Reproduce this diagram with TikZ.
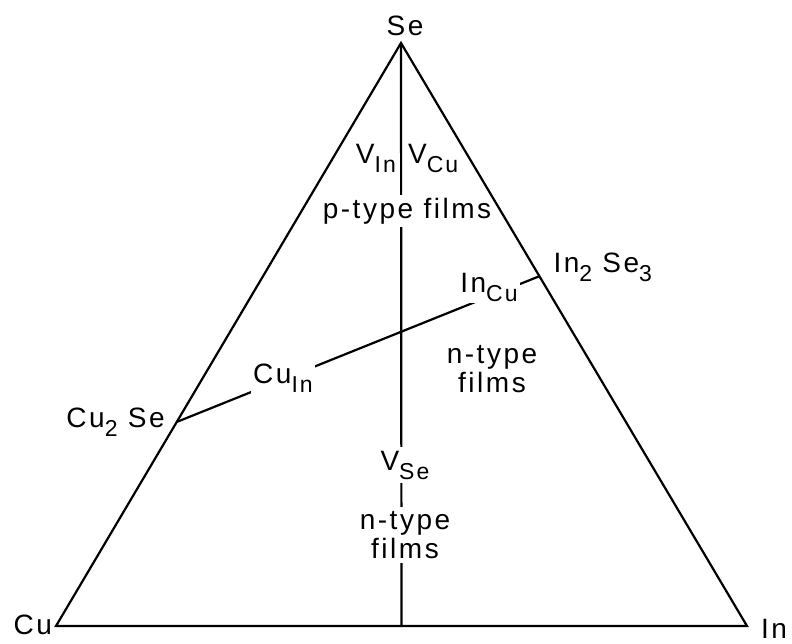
\documentclass[tikz,border=0pt]{standalone}
\usepackage{fontspec}
\setmainfont[LetterSpace=9]{Liberation Sans}
\usetikzlibrary{calc}
\newcommand{\sbs}[1]{\raisebox{-9pt}{\fontsize{23}{23}\selectfont #1}}

\begin{document}
\begin{tikzpicture}[x=1pt, y=-1pt, line width=2.2pt]

  % Styles
  \tikzset{
    corner label/.style={font=\fontsize{28}{29}\selectfont, inner sep=1pt},
    defect label/.style={font=\fontsize{28}{29}\selectfont, inner sep=2pt},
    cut label/.style={defect label, fill=white},
    region label/.style={font=\fontsize{28}{29}\selectfont, align=center, inner sep=3pt}
  }
  \useasboundingbox (0,0) rectangle (792,643);

  % --- CORNERS OF THE TRIANGLE ---
  \coordinate (Cu) at (56,626);
  \coordinate (In) at (747,626);
  \coordinate (Se) at (401,43);
  \coordinate (CuSe) at ($(Cu)!0.35!(Se)$);
  \coordinate (InSe) at ($(In)!0.6!(Se)$);
  \coordinate (base) at ($(Cu)!0.5!(In)$);

  % --- TIE LINES ---
  % Cu:In = 1:1 line
  \draw (Se) -- (base);
  % Cu2Se - In2Se3 line
  \draw (CuSe) -- (InSe);

  % --- CORNER LABELS ---
  \node[corner label] (lSe) at (405,26) {Se};
  \node[corner label, anchor=east] (lCu) at (54,625) {Cu};
  \node[corner label, anchor=west] (lIn) at (759,629) {In};
  \node[corner label, anchor=east] (lCuSe) at ($(CuSe)+(-10,0)$) {Cu\sbs{2} Se};
  \node[corner label, anchor=west] (lInSe) at ($(InSe)+(12,-9)$) {In\sbs{2} Se\sbs{3}};

  % --- DEFECTS ---
  \node[defect label, anchor=east] (VIn) at (399,158) {V\sbs{In}};
  \node[defect label, anchor=west] (VCu) at (405,158) {V\sbs{Cu}};
  \node[cut label] (CuIn) at (283,378) {Cu\sbs{In}};
  \node[cut label] (InCu) at (489,287) {In\sbs{Cu}};
  \node[cut label, inner sep=4pt] (VSe) at (405,465) {V\sbs{Se}};

  % --- REGIONS ---
  \node[region label, fill=white] (ptop) at (407,211) {p-type films};
  \node[region label] (nright) at (492,369) {n-type\\films};
  \node[region label, fill=white, inner sep=4pt] (nbottom) at (405,535) {n-type\\films};

  % Triangle on top of the label boxes
  \draw[line join=miter] (Cu) -- (Se) -- (In) -- cycle;

\end{tikzpicture}
\end{document}
